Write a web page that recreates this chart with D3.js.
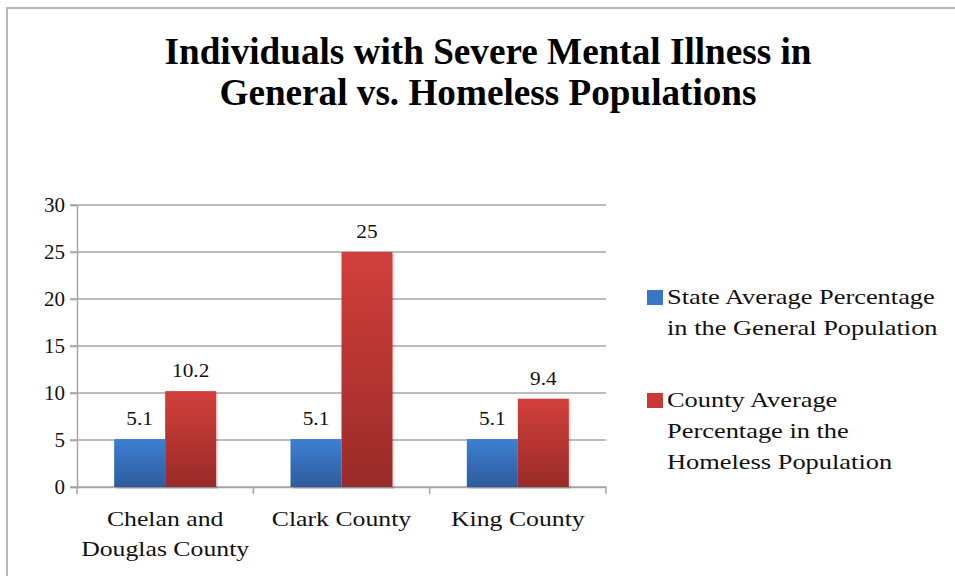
<!DOCTYPE html>
<html>
<head>
<meta charset="utf-8">
<script src="https://cdn.jsdelivr.net/npm/d3@7"></script>
</head>
<body style="margin:0">
<svg width="955" height="576" font-family="Liberation Serif"></svg>
<script>
const FONT = '"Liberation Serif"';
const svg = d3.select("svg");

// data
const counties = [["Chelan and", "Douglas County"], ["Clark County"], ["King County"]];
const countyKeys = ["Chelan and Douglas County", "Clark County", "King County"];
const stateAvg = [5.1, 5.1, 5.1];
const countyAvg = [10.2, 25, 9.4];
const seriesNames = [
	["State Average Percentage", "in the General Population"],
	["County Average", "Percentage in the", "Homeless Population"],
];
const yTicks = [0, 5, 10, 15, 20, 25, 30];
const titleLines = ["Individuals with Severe Mental Illness in", "General vs. Homeless Populations"];

const plot = { l: 77, r: 606, t: 205, b: 487 };

// the original's body text is a little wider than Times, stretch it
function stretch(sel, k) {
	sel.each(function () {
		let len = this.getComputedTextLength();
		d3.select(this).attr("textLength", len * k).attr("lengthAdjust", "spacingAndGlyphs");
	});
}

const defs = svg.append("defs");
function grad(id, top, bottom) {
	let g = defs.append("linearGradient").attr("id", id)
		.attr("x1", 0).attr("y1", 0).attr("x2", 0).attr("y2", 1);
	g.append("stop").attr("offset", "0%").attr("stop-color", top);
	g.append("stop").attr("offset", "100%").attr("stop-color", bottom);
}
grad("gBlue", "#3d7fd3", "#2d5c9c");
grad("gRed", "#d23f3b", "#992b28");

// outer frame
svg.append("rect").attr("x", 7).attr("y", 8).attr("width", 960).attr("height", 580)
	.attr("fill", "none").attr("stroke", "#a0a0a0").attr("stroke-width", 1.5);

// title (squeezed like the original)
let titleW = [647, 537];
svg.append("g").selectAll("text").data(titleLines).enter().append("text")
	.attr("x", 488).attr("y", (d, i) => 64 + i * 41)
	.attr("text-anchor", "middle")
	.attr("textLength", (d, i) => titleW[i]).attr("lengthAdjust", "spacingAndGlyphs")
	.style("font-family", FONT).style("font-weight", "bold").style("font-size", "37px")
	.attr("fill", "#000")
	.text(d => d);

let y = d3.scaleLinear().domain([0, 30]).range([plot.b, plot.t]);
let x0 = d3.scaleBand().domain(countyKeys).range([plot.l, plot.r]);
let x1 = d3.scaleBand().domain([0, 1]).range([0, 102]);

// gridlines
svg.append("g").selectAll("line").data(yTicks).enter().append("line")
	.attr("x1", plot.l - 7).attr("x2", plot.r)
	.attr("y1", d => y(d)).attr("y2", d => y(d))
	.attr("stroke", "#a6a6a6").attr("stroke-width", 1.5);

// y axis
let yAxis = svg.append("g").attr("transform", `translate(${plot.l},0)`)
	.call(d3.axisLeft(y).tickValues(yTicks).tickSize(7).tickPadding(5));
yAxis.attr("font-family", "Liberation Serif");
yAxis.select(".domain").attr("stroke", "#a6a6a6").attr("stroke-width", 1.5);
yAxis.selectAll(".tick line").attr("stroke", "#a6a6a6").attr("stroke-width", 1.5);
yAxis.selectAll("text").style("font-family", FONT).style("font-size", "21px").attr("fill", "#111");

// x axis
let xAxis = svg.append("g").attr("transform", `translate(0,${plot.b})`)
	.call(d3.axisBottom(x0).tickValues([]).tickSizeOuter(0));
xAxis.select(".domain").attr("stroke", "#a6a6a6").attr("stroke-width", 1.5);
let edges = countyKeys.map(k => x0(k)).concat([plot.r]);
xAxis.selectAll("line.edge").data(edges).enter().append("line").attr("class", "edge")
	.attr("x1", d => d).attr("x2", d => d).attr("y1", 0).attr("y2", 7)
	.attr("stroke", "#a6a6a6").attr("stroke-width", 1.5);

// bars, with a soft offset shadow drawn first
let rows = countyKeys.map((k, i) => ({ key: k, vals: [stateAvg[i], countyAvg[i]] }));
let groups = svg.append("g").selectAll("g").data(rows).enter().append("g")
	.attr("transform", d => `translate(${x0(d.key) + x0.bandwidth() / 2 - 51},0)`);
groups.selectAll("rect.shadow").data(d => d.vals).enter().append("rect").attr("class", "shadow")
	.attr("x", (d, i) => x1(i) + 2).attr("width", x1.bandwidth())
	.attr("y", d => y(d) + 2).attr("height", d => plot.b - y(d))
	.attr("fill", "#000").attr("opacity", 0.12);
groups.selectAll("rect.bar").data(d => d.vals).enter().append("rect").attr("class", "bar")
	.attr("x", (d, i) => x1(i)).attr("width", x1.bandwidth())
	.attr("y", d => y(d)).attr("height", d => plot.b - y(d))
	.attr("fill", (d, i) => i === 0 ? "url(#gBlue)" : "url(#gRed)");
let valLabels = groups.selectAll("text").data(d => d.vals).enter().append("text")
	.attr("x", (d, i) => x1(i) + x1.bandwidth() / 2).attr("y", d => y(d) - 14)
	.attr("text-anchor", "middle").style("font-family", FONT).style("font-size", "19px")
	.attr("fill", "#111").text(d => d);
stretch(valLabels, 1.12);

// category labels
svg.append("g").selectAll("text").data(counties).enter().append("text")
	.attr("text-anchor", "middle").style("font-family", FONT).style("font-size", "22px").attr("fill", "#111")
	.each(function (d, i) {
		let cx = x0(countyKeys[i]) + x0.bandwidth() / 2;
		let ts = d3.select(this).selectAll("tspan").data(d).enter().append("tspan")
			.attr("x", cx).attr("y", (t, j) => 526 + j * 30).text(t => t);
		stretch(ts, 1.17);
	});

// legend
let legend = svg.append("g");
let legendY = [290, 393];
let legendFill = ["#3a76c6", "#c83a36"];
seriesNames.forEach((lines, i) => {
	legend.append("rect").attr("x", 647).attr("y", legendY[i]).attr("width", 16).attr("height", 15)
		.attr("fill", legendFill[i]);
	let ts = legend.append("text").style("font-family", FONT).style("font-size", "22px").attr("fill", "#111")
		.selectAll("tspan").data(lines).enter().append("tspan")
		.attr("x", 667).attr("y", (t, j) => legendY[i] + 14 + j * 31).text(t => t);
	stretch(ts, 1.2);
});
</script>
</body>
</html>
